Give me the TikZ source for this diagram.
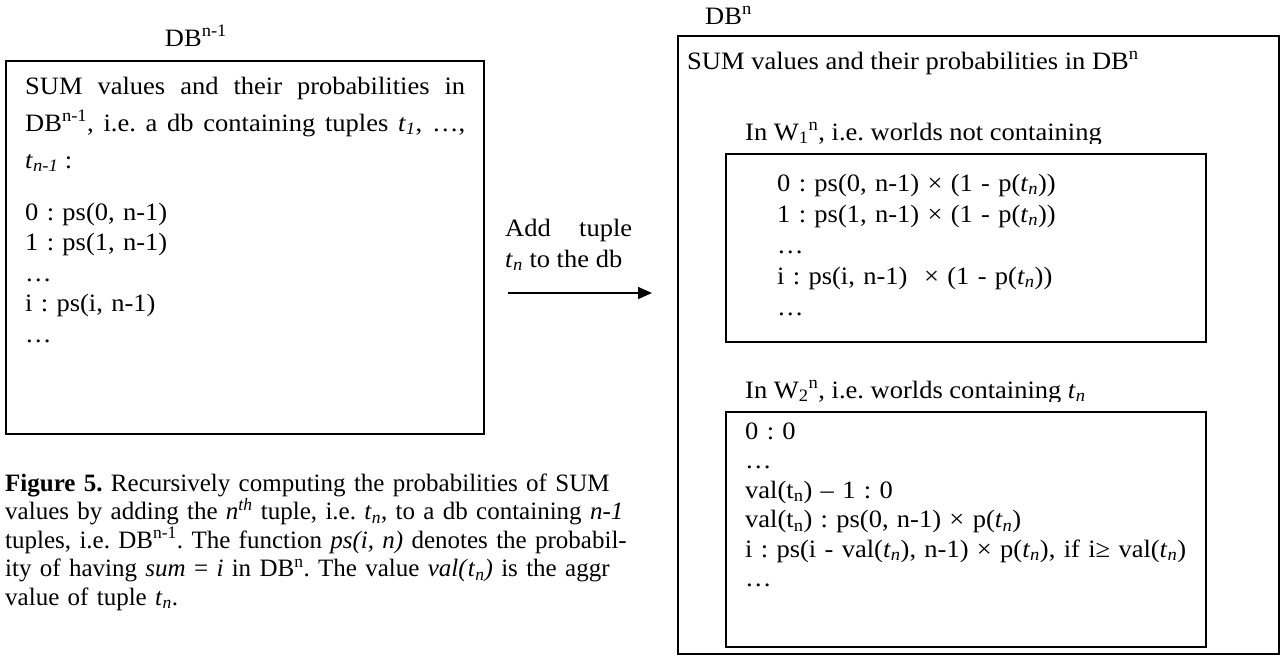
\documentclass[tikz,border=0pt]{standalone}
\usepackage{fontspec}
\setmainfont{Liberation Serif}
\newfontfamily\wordfont{Liberation Serif}[FakeStretch=1.06]
\usetikzlibrary{arrows.meta}
\frenchspacing

\newcommand{\tn}{\textit{t}\textsubscript{\textit{n}}}

\begin{document}
\begin{tikzpicture}[
    x=1pt, y=-1pt,
    dbbox/.style={
        draw,
        line width=1.6pt,
        anchor=north west,
        inner sep=0pt
    },
    dbtext/.style={
        anchor=base west,
        inner sep=0pt,
        align=left,
        font=\wordfont\fontsize{25}{31}\selectfont
    },
    listtext/.style={
        dbtext,
        text width=460pt
    },
    captext/.style={
        anchor=base west,
        inner sep=0pt,
        align=left,
        text width=640pt,
        font=\fontsize{25}{28.5}\selectfont
    }
]
\useasboundingbox (0,0) rectangle (1281,656);

% Left box: DB^{n-1}
\node[dbtext, anchor=base] (oldlabel) at (196,46) {DB\textsuperscript{n-1}};
\node[dbbox, minimum width=478pt, minimum height=373pt] (olddb) at (5,60) {};
\node[dbtext, text width=440pt, align=justify,
      font=\wordfont\fontsize{25}{37}\selectfont] (oldhead) at (25,94)
      {SUM values and their probabilities in\linebreak
       DB\textsuperscript{n-1}, i.e. a db containing tuples \textit{t}\textsubscript{\textit{1}}, …,\linebreak
       \textit{t}\textsubscript{\textit{n-1}} :};
\node[listtext, font=\wordfont\fontsize{25}{30.5}\selectfont] (oldvals) at (25,220)
      {0 : ps(0, n-1)\\
       1 : ps(1, n-1)\\
       …\\
       i : ps(i, n-1)\\
       …};

% Caption
\node[captext] (caption) at (5,491)
      {\textbf{Figure 5.} Recursively computing the probabilities of SUM\\
       values by adding the \textit{n\textsuperscript{th}} tuple, i.e. \tn, to a db containing \textit{n-1}\\
       tuples, i.e. DB\textsuperscript{n-1}. The function \textit{ps(i, n)} denotes the probabil-\\
       ity of having \textit{sum} = \textit{i} in DB\textsuperscript{n}. The value \textit{val(}\tn\textit{)} is the aggr\\
       value of tuple \tn.};

% Adding the tuple
\node[dbtext, text width=127pt, align=justify] (addlabel) at (505,236)
      {Add tuple\linebreak \tn{} to the db};
\coordinate (arrowstart) at (508,293);
\coordinate (arrowend) at (652,293);
\draw[line width=1.6pt, -{Triangle[length=14pt, width=12pt]}] (arrowstart) -- (arrowend);

% Right box: DB^n
\node[dbtext] (newlabel) at (705,24) {DB\textsuperscript{n}};
\node[dbbox, minimum width=601pt, minimum height=618pt] (newdb) at (677,35) {};
\node[dbtext] (newhead) at (687,69)
      {SUM values and their probabilities in DB\textsuperscript{n}};

% Worlds without t_n
\begin{scope}
\clip (700,100) rectangle (1270,143);
\node[dbtext] (woutlabel) at (745,140)
      {In W\textsubscript{1}\textsuperscript{n}, i.e. worlds not containing};
\end{scope}
\node[dbbox, minimum width=480pt, minimum height=188pt] (woutbox) at (725,153) {};
\node[listtext, text width=420pt] (woutvals) at (777,191)
      {0 : ps(0, n-1) × (1 - p(\tn))\\
       1 : ps(1, n-1) × (1 - p(\tn))\\
       …\\
       i : ps(i, n-1)\ \ × (1 - p(\tn))\\
       …};

% Worlds with t_n
\begin{scope}
\clip (700,360) rectangle (1270,401);
\node[dbtext] (wlabel) at (745,398)
      {In W\textsubscript{2}\textsuperscript{n}, i.e. worlds containing \tn};
\end{scope}
\node[dbbox, minimum width=480pt, minimum height=235pt] (wbox) at (725,411) {};
\node[listtext, font=\wordfont\fontsize{25}{29.5}\selectfont] (wvals) at (745,439)
      {0 : 0\\
       …\\
       val(t\textsubscript{n}) – 1 : 0\\
       val(t\textsubscript{n}) : ps(0, n-1) × p(\tn)\\
       i : ps(i - val(\tn), n-1) × p(\tn), if i≥ val(\tn)\\
       …};

\end{tikzpicture}
\end{document}
